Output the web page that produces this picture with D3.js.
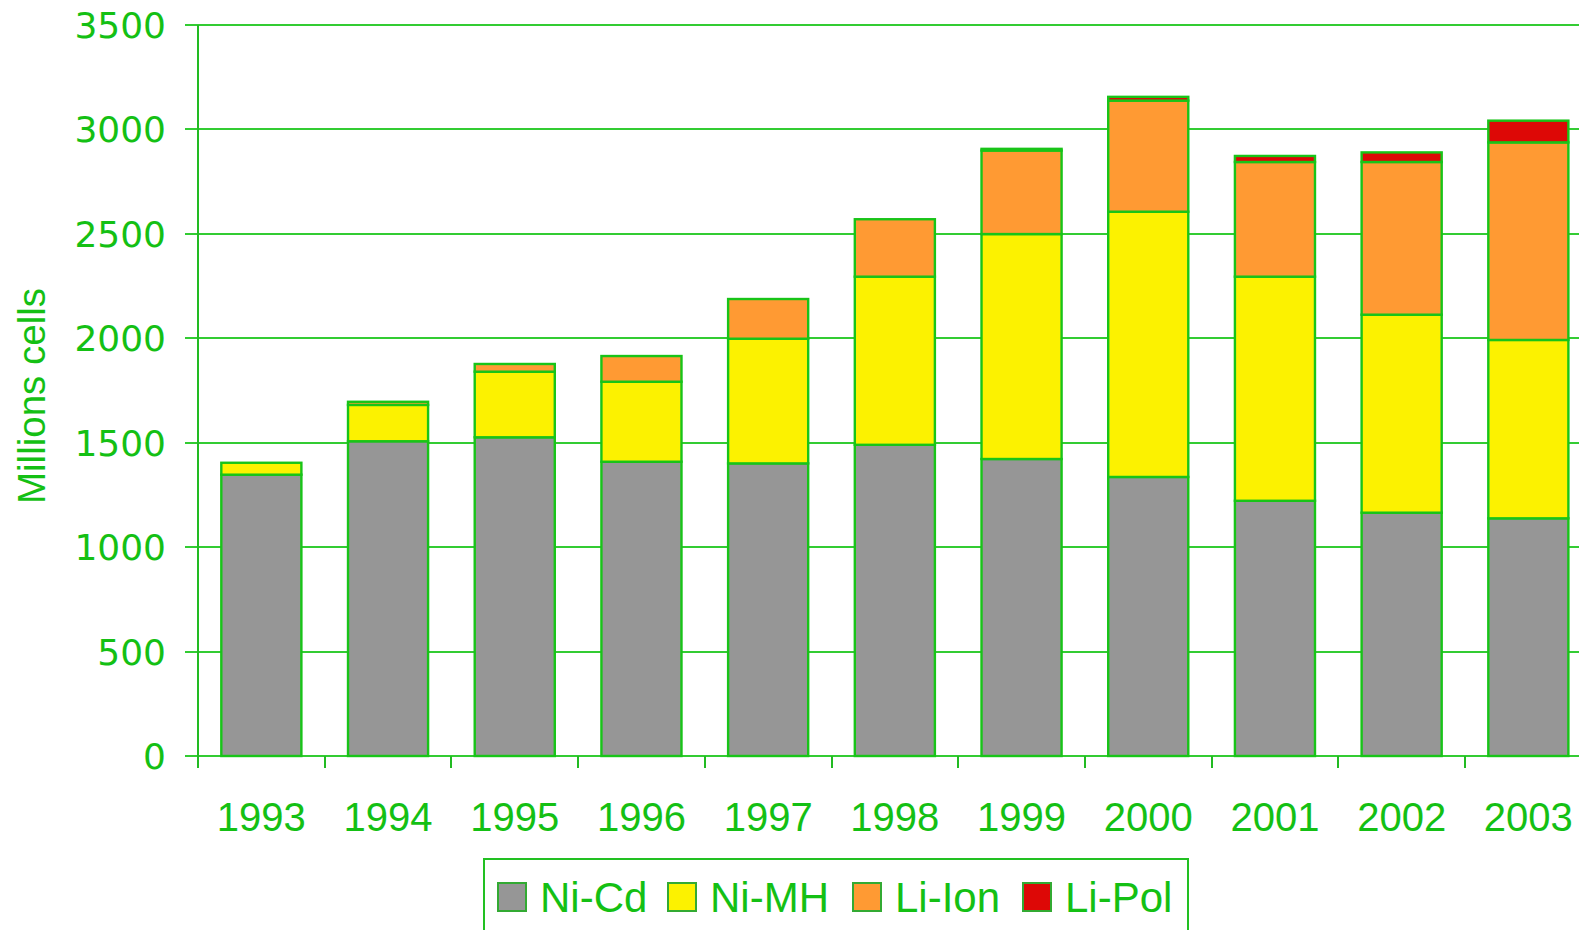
<!DOCTYPE html>
<meta charset="utf-8">
<style>
 body { margin: 0; background: #fff; overflow: hidden; }
 svg { display: block; }
 .axis line { stroke: #22bb22; stroke-width: 2; shape-rendering: crispEdges; }
 .grid line { stroke: #33cc33; stroke-width: 2; shape-rendering: crispEdges; }
 .bars rect { stroke: #18c418; stroke-width: 2.4; }
</style>
<body>
<svg width="1579" height="930"></svg>
<script src="https://cdn.jsdelivr.net/npm/d3@7"></script>
<script>

 // values, millions of cells
 var years = ["1993","1994","1995","1996","1997","1998","1999","2000","2001","2002","2003"];
 var nicd  = [1347, 1507, 1526, 1409, 1401, 1490, 1422, 1336, 1222, 1165, 1138];
 var nimh  = [  57,  174,  314,  383,  597,  805, 1077, 1270, 1073,  948,  854];
 var liion = [   0,   15,   37,  123,  190,  275,  400,  532,  549,  731,  946];
 var lipol = [   0,    0,    0,    0,    0,    0,    8,   18,   29,   46,  104];
 var seriesNames = ["Ni-Cd", "Ni-MH", "Li-Ion", "Li-Pol"];
 var seriesColors = ["#969696", "#fcf200", "#ff9a33", "#dd0806"];
 var yTicks = [0, 500, 1000, 1500, 2000, 2500, 3000, 3500];

 var svg = d3.select("svg"),
     plotLeft = 198, plotTop = 25, plotBottom = 756,
     step = 126.7,
     plotRight = plotLeft + step * years.length;

 var green = "#14c014";

 var table = years.map(function(y, i) {
     return {year: y, "Ni-Cd": nicd[i], "Ni-MH": nimh[i], "Li-Ion": liion[i], "Li-Pol": lipol[i]};
 });

 var x = d3.scaleBand()
     .domain(years)
     .range([plotLeft, plotRight])
     .paddingInner(0.368)
     .paddingOuter(0.184);

 var y = d3.scaleLinear()
     .domain([0, 3500])
     .range([plotBottom, plotTop]);

 // gridlines
 svg.append("g")
    .attr("class", "grid")
    .selectAll("line").data(yTicks).enter().append("line")
    .attr("x1", plotLeft - 13)
    .attr("x2", plotRight)
    .attr("y1", d => y(d))
    .attr("y2", d => y(d));

 // y axis line
 svg.append("line")
    .attr("x1", plotLeft).attr("x2", plotLeft)
    .attr("y1", plotTop).attr("y2", plotBottom)
    .style("stroke", "#22bb22").style("stroke-width", 2);

 // x ticks on the band edges
 svg.append("g")
    .attr("class", "axis")
    .selectAll("line").data(d3.range(years.length + 1)).enter().append("line")
    .attr("x1", i => plotLeft + i * x.step())
    .attr("x2", i => plotLeft + i * x.step())
    .attr("y1", plotBottom)
    .attr("y2", plotBottom + 12);

 var stack = d3.stack().keys(seriesNames)(table);

 svg.append("g")
    .attr("class", "bars")
    .selectAll("g").data(stack).enter().append("g")
    .style("fill", (d, i) => seriesColors[i])
    .selectAll("rect").data(d => d.filter(p => p[1] > p[0])).enter().append("rect")
    .attr("x", d => x(d.data.year))
    .attr("width", x.bandwidth())
    .attr("y", d => y(d[1]))
    .attr("height", d => y(d[0]) - y(d[1]));

 // y tick labels
 svg.append("g")
    .selectAll("text").data(yTicks).enter().append("text")
    .attr("x", 166)
    .attr("y", d => y(d))
    .attr("dy", "0.36em")
    .attr("text-anchor", "end")
    .style("font", "36px 'DejaVu Sans'")
    .style("fill", green)
    .text(d => d);

 // x tick labels
 svg.append("g")
    .selectAll("text").data(years).enter().append("text")
    .attr("x", d => x(d) + x.bandwidth() / 2)
    .attr("y", 831)
    .attr("text-anchor", "middle")
    .style("font", "40px 'Liberation Sans'")
    .style("fill", green)
    .text(d => d);

 svg.append("text")
    .attr("transform", "translate(45,396) rotate(-90)")
    .attr("text-anchor", "middle")
    .style("font", "38.5px 'Liberation Sans'")
    .style("fill", green)
    .text("Millions cells");

 // legend
 var legend = svg.append("g");
 legend.append("rect")
    .attr("x", 484).attr("y", 859)
    .attr("width", 704).attr("height", 100)
    .style("fill", "none")
    .style("stroke", "#22c022").style("stroke-width", 2);

 var legendX = [498, 668, 853, 1023];
 var item = legend.selectAll("g.item").data(seriesNames).enter().append("g")
    .attr("class", "item")
    .attr("transform", (d, i) => "translate(" + legendX[i] + ",883)");
 item.append("rect")
    .attr("width", 28).attr("height", 28)
    .style("fill", (d, i) => seriesColors[i])
    .style("stroke", "#33aa33").style("stroke-width", 2);
 item.append("text")
    .attr("x", 42)
    .attr("y", 29)
    .style("font", "42px 'Liberation Sans'")
    .style("fill", green)
    .text(d => d);

</script>
</body>
